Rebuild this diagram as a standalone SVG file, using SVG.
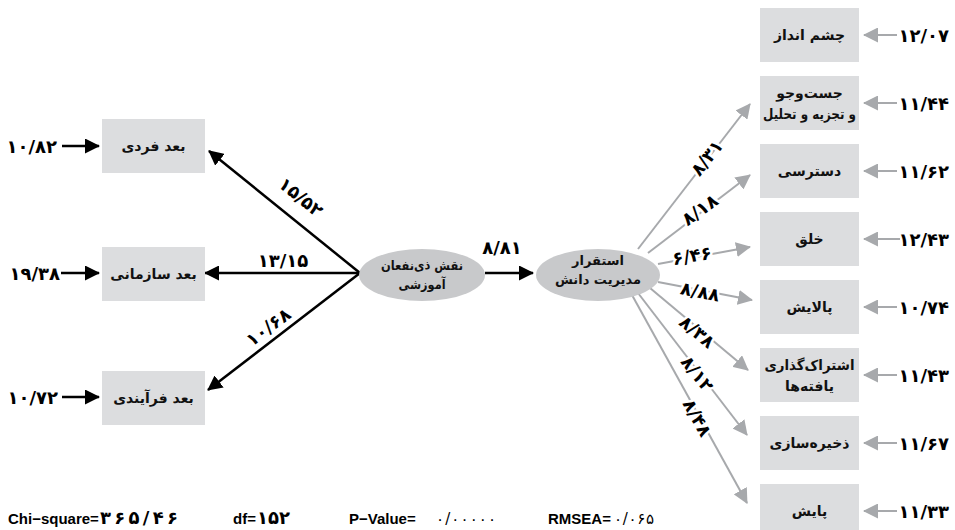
<svg xmlns="http://www.w3.org/2000/svg" width="955" height="530" viewBox="0 0 955 530">
<defs>
<marker id="ab" markerUnits="userSpaceOnUse" markerWidth="15" markerHeight="15" refX="14" refY="7.5" orient="auto"><path d="M0,0 L15,7.5 L0,15 z" fill="#000"/></marker>
<marker id="ag" markerUnits="userSpaceOnUse" markerWidth="15" markerHeight="15" refX="14" refY="7.5" orient="auto"><path d="M0,0 L15,7.5 L0,15 z" fill="#a7a9ac"/></marker>
<style>
.box{fill:#dcdddf}
.ell{fill:#c8c9cb}
.t{font-family:"DejaVu Sans","Noto Sans",sans-serif;font-weight:bold;font-size:14px;fill:#111;text-anchor:middle}
.e{font-size:13px}
.n{font-family:"DejaVu Sans","Noto Sans",sans-serif;font-weight:bold;font-size:18px;fill:#000}
.h{stroke:#fff;stroke-width:5;paint-order:stroke;stroke-linejoin:round}
.bl{stroke:#000;stroke-width:2.5;fill:none}
.gl{stroke:#a7a9ac;stroke-width:2;fill:none}
.s{font-family:"Liberation Sans",Arial,sans-serif;font-weight:bold;font-size:15px;fill:#000}
.sp{font-family:"DejaVu Sans",sans-serif;font-weight:bold;font-size:18px;fill:#000}
.sl{font-family:"DejaVu Sans",sans-serif;font-weight:normal;font-size:15px;fill:#000}
</style>
</defs>
<rect width="955" height="530" fill="#fff"/>

<g id="connectors">
<line class="bl" x1="360" y1="273" x2="209" y2="151" marker-end="url(#ab)"/>
<line class="bl" x1="360" y1="273" x2="205" y2="273" marker-end="url(#ab)"/>
<line class="bl" x1="360" y1="273" x2="208" y2="390" marker-end="url(#ab)"/>
<line class="bl" x1="485" y1="273" x2="533" y2="273" marker-end="url(#ab)"/>
<line class="bl" x1="62" y1="146" x2="99" y2="146" marker-end="url(#ab)"/>
<line class="bl" x1="61" y1="273" x2="99" y2="273" marker-end="url(#ab)"/>
<line class="bl" x1="62" y1="397" x2="99" y2="397" marker-end="url(#ab)"/>

<line class="gl" x1="638" y1="249" x2="750" y2="104" marker-end="url(#ag)"/>
<line class="gl" x1="648" y1="253" x2="750" y2="175" marker-end="url(#ag)"/>
<line class="gl" x1="658" y1="264" x2="750" y2="247" marker-end="url(#ag)"/>
<line class="gl" x1="658" y1="282" x2="752" y2="300" marker-end="url(#ag)"/>
<line class="gl" x1="650" y1="288" x2="748" y2="370" marker-end="url(#ag)"/>
<line class="gl" x1="638" y1="293" x2="747" y2="435" marker-end="url(#ag)"/>
<line class="gl" x1="632" y1="295" x2="747" y2="503" marker-end="url(#ag)"/>

<line class="gl" x1="897" y1="35" x2="864" y2="35" marker-end="url(#ag)"/>
<line class="gl" x1="897" y1="103" x2="864" y2="103" marker-end="url(#ag)"/>
<line class="gl" x1="897" y1="171" x2="864" y2="171" marker-end="url(#ag)"/>
<line class="gl" x1="900" y1="239" x2="864" y2="239" marker-end="url(#ag)"/>
<line class="gl" x1="897" y1="307" x2="864" y2="307" marker-end="url(#ag)"/>
<line class="gl" x1="897" y1="375" x2="864" y2="375" marker-end="url(#ag)"/>
<line class="gl" x1="897" y1="443" x2="864" y2="443" marker-end="url(#ag)"/>
<line class="gl" x1="897" y1="511" x2="864" y2="511" marker-end="url(#ag)"/>

<text class="n" x="502" y="254" text-anchor="middle">۸/۸۱</text>
<text class="n" x="283" y="267" text-anchor="middle">۱۳/۱۵</text>
<text class="n" text-anchor="middle" transform="translate(297,202) rotate(39)">۱۵/۵۲</text>
<text class="n" text-anchor="middle" transform="translate(272,332) rotate(-37)">۱۰/۶۸</text>

<text class="n h" text-anchor="middle" transform="translate(707,158) rotate(-52) translate(0,6)">۸/۳۱</text>
<text class="n h" text-anchor="middle" transform="translate(700,210) rotate(-36) translate(0,6)">۸/۱۸</text>
<text class="n h" text-anchor="middle" transform="translate(692,256) rotate(-10) translate(0,6)">۶/۴۶</text>
<text class="n h" text-anchor="middle" transform="translate(700,292) rotate(11) translate(0,6)">۸/۸۸</text>
<text class="n h" text-anchor="middle" transform="translate(697,332) rotate(40) translate(0,6)">۸/۳۸</text>
<text class="n h" text-anchor="middle" transform="translate(697,374) rotate(52) translate(0,6)">۸/۱۲</text>
<text class="n h" text-anchor="middle" transform="translate(697,418) rotate(61) translate(0,6)">۸/۴۸</text>

<text class="n" x="57" y="153" text-anchor="end">۱۰/۸۲</text>
<text class="n" x="60" y="280" text-anchor="end">۱۹/۳۸</text>
<text class="n" x="58" y="404" text-anchor="end">۱۰/۷۲</text>

<text class="n" x="949" y="42" text-anchor="end">۱۲/۰۷</text>
<text class="n" x="949" y="110" text-anchor="end">۱۱/۴۴</text>
<text class="n" x="949" y="178" text-anchor="end">۱۱/۶۲</text>
<text class="n" x="949" y="246" text-anchor="end">۱۲/۴۳</text>
<text class="n" x="949" y="314" text-anchor="end">۱۰/۷۴</text>
<text class="n" x="949" y="382" text-anchor="end">۱۱/۴۳</text>
<text class="n" x="949" y="450" text-anchor="end">۱۱/۶۷</text>
<text class="n" x="949" y="518" text-anchor="end">۱۱/۳۳</text>
</g>

<g id="n-fardi"><rect class="box" x="102" y="119" width="103" height="54"/><text class="t" x="153.5" y="151">بعد فردی</text></g>
<g id="n-sazmani"><rect class="box" x="102" y="247" width="103" height="54"/><text class="t" x="153.5" y="279">بعد سازمانی</text></g>
<g id="n-farayandi"><rect class="box" x="102" y="371" width="103" height="54"/><text class="t" x="153.5" y="403">بعد فرآیندی</text></g>

<g id="n-zinafan"><ellipse class="ell" cx="422" cy="275" rx="63" ry="26"/><text class="t e" x="422" y="270" textLength="82" lengthAdjust="spacingAndGlyphs">نقش ذی‌نفعان</text><text class="t e" x="422" y="289" textLength="47" lengthAdjust="spacingAndGlyphs">آموزشی</text></g>
<g id="n-esteghrar"><ellipse class="ell" cx="598" cy="275" rx="62" ry="26"/><text class="t e" x="598" y="265">استقرار</text><text class="t e" x="598" y="284">مدیریت دانش</text></g>

<g id="n-cheshm"><rect class="box" x="760" y="8" width="99" height="54"/><text class="t" x="809.5" y="40">چشم انداز</text></g>
<g id="n-jostojoo"><rect class="box" x="760" y="76" width="99" height="54"/><text class="t" x="809.5" y="98">جست‌وجو</text><text class="t" x="809.5" y="119" textLength="93" lengthAdjust="spacingAndGlyphs">و تجزیه و تحلیل</text></g>
<g id="n-dastresi"><rect class="box" x="760" y="144" width="99" height="54"/><text class="t" x="809.5" y="176">دسترسی</text></g>
<g id="n-khalgh"><rect class="box" x="760" y="212" width="99" height="54"/><text class="t" x="809.5" y="244">خلق</text></g>
<g id="n-palayesh"><rect class="box" x="760" y="280" width="99" height="54"/><text class="t" x="809.5" y="312">پالایش</text></g>
<g id="n-eshterak"><rect class="box" x="760" y="348" width="99" height="54"/><text class="t" x="809.5" y="370" textLength="90" lengthAdjust="spacingAndGlyphs">اشتراک‌گذاری</text><text class="t" x="809.5" y="391">یافته‌ها</text></g>
<g id="n-zakhire"><rect class="box" x="760" y="416" width="99" height="54"/><text class="t" x="809.5" y="448">ذخیره‌سازی</text></g>
<g id="n-payesh"><rect class="box" x="760" y="484" width="99" height="54"/><text class="t" x="809.5" y="516">پایش</text></g>

<g id="stats">
<text class="s" x="8" y="524">Chi−square=</text>
<text class="sp" x="100" y="524" textLength="78" lengthAdjust="spacing">۳۶۵/۴۶</text>
<text class="s" x="233" y="524">df=</text>
<text class="sp" x="257" y="524" textLength="33" lengthAdjust="spacing">۱۵۲</text>
<text class="s" x="349" y="524">P−Value=</text>
<text class="sl" x="436" y="524" textLength="60" lengthAdjust="spacing">۰/۰۰۰۰۰</text>
<text class="s" x="548" y="524">RMSEA=</text>
<text class="sl" x="614" y="524" textLength="40" lengthAdjust="spacing">۰/۰۶۵</text>
</g>
</svg>
